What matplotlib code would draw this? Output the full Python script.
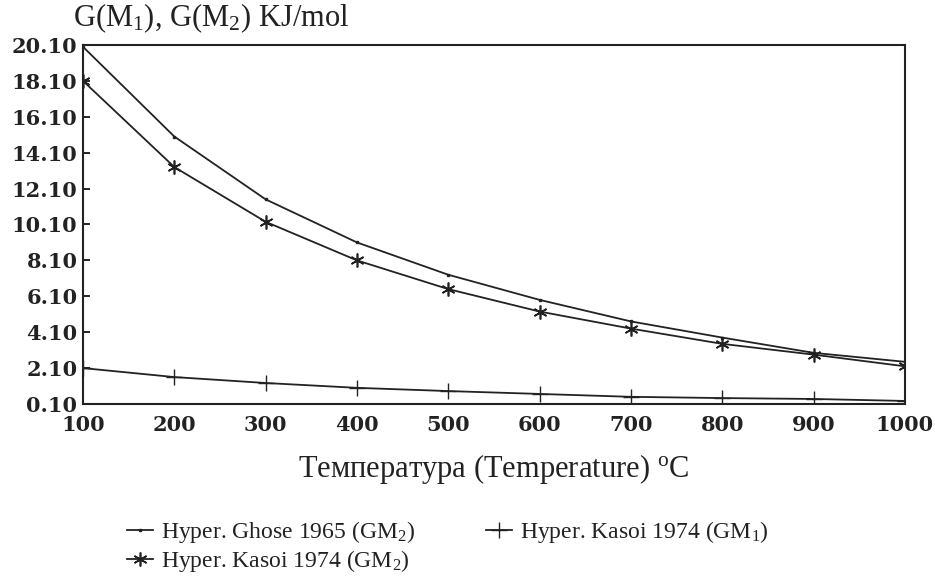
import matplotlib
matplotlib.use("Agg")
import matplotlib.pyplot as plt

temps = [100, 200, 300, 400, 500, 600, 700, 800, 900, 1000]
ghose_gm2 = [20.0, 15.0, 11.5, 9.1, 7.3, 5.9, 4.7, 3.8, 2.95, 2.45]
kasoi_gm1 = [2.1, 1.6, 1.27, 1.0, 0.82, 0.66, 0.5, 0.43, 0.38, 0.27]
kasoi_gm2 = [18.1, 13.3, 10.25, 8.1, 6.5, 5.25, 4.3, 3.45, 2.85, 2.2]
yticks = [0.1, 2.1, 4.1, 6.1, 8.1, 10.1, 12.1, 14.1, 16.1, 18.1, 20.1]
xticks = [100, 200, 300, 400, 500, 600, 700, 800, 900, 1000]

plt.rcParams["mathtext.fontset"] = "custom"
plt.rcParams["mathtext.rm"] = "Liberation Serif"
plt.rcParams["mathtext.it"] = "Liberation Serif:italic"
plt.rcParams["mathtext.bf"] = "Liberation Serif:bold"

serif = ["Liberation Serif", "DejaVu Serif"]
tickfont = ["DejaVu Serif"]
fig = plt.figure(figsize=(9.35, 5.77), dpi=100)
ax = fig.add_axes([83/935, 1-404/577, (905-83)/935, (404-45)/577])

c = "#222222"
l1, = ax.plot(temps, ghose_gm2, color=c, lw=1.3, marker="s", ms=2.0, label="Hyper. Ghose 1965 (GM$_2$)")
l2, = ax.plot(temps, kasoi_gm1, color=c, lw=1.3, marker="+", ms=12, mew=1.0, label="Hyper. Kasoi 1974 (GM$_1$)")
l3, = ax.plot(temps, kasoi_gm2, color=c, lw=1.3, marker=(6, 2, 0), ms=10, mew=1.2, label="Hyper. Kasoi 1974 (GM$_2$)")

ax.set_xlim(100, 1000)
ax.set_ylim(0.1, 20.1)
ax.set_xticks(xticks)
ax.set_yticks(yticks)
ax.set_yticklabels([f"{v:.2f}" for v in yticks])
ax.tick_params(axis="y", direction="in", length=5, width=1.2, pad=4, labelsize=15)
ax.tick_params(axis="x", length=0, pad=8, labelsize=15)
for lab in ax.get_xticklabels() + ax.get_yticklabels():
    lab.set_family(tickfont)
    lab.set_fontweight("bold")
    lab.set_color("#222222")
for s in ax.spines.values():
    s.set_linewidth(1.5)
    s.set_color(c)

ax.set_xlabel("Температура (Temperature) $^{\\rm o}$C", fontsize=22, family=serif, labelpad=12, color=c)
fig.text(73/935, 1-18/577, "G(M$_1$), G(M$_2$) KJ/mol", fontsize=22, family=serif, va="center", ha="left", color=c)

leg = fig.legend(handles=[l1, l3, l2], loc="upper left", bbox_to_anchor=(115/935, 1-507/577), ncol=2, frameon=False,
                 prop={"family": serif, "size": 17}, handlelength=1.1, handletextpad=0.35,
                 columnspacing=3.0, labelspacing=0.15, borderpad=0)
for t in leg.get_texts():
    t.set_color(c)
fig.savefig("out.png", dpi=100)
